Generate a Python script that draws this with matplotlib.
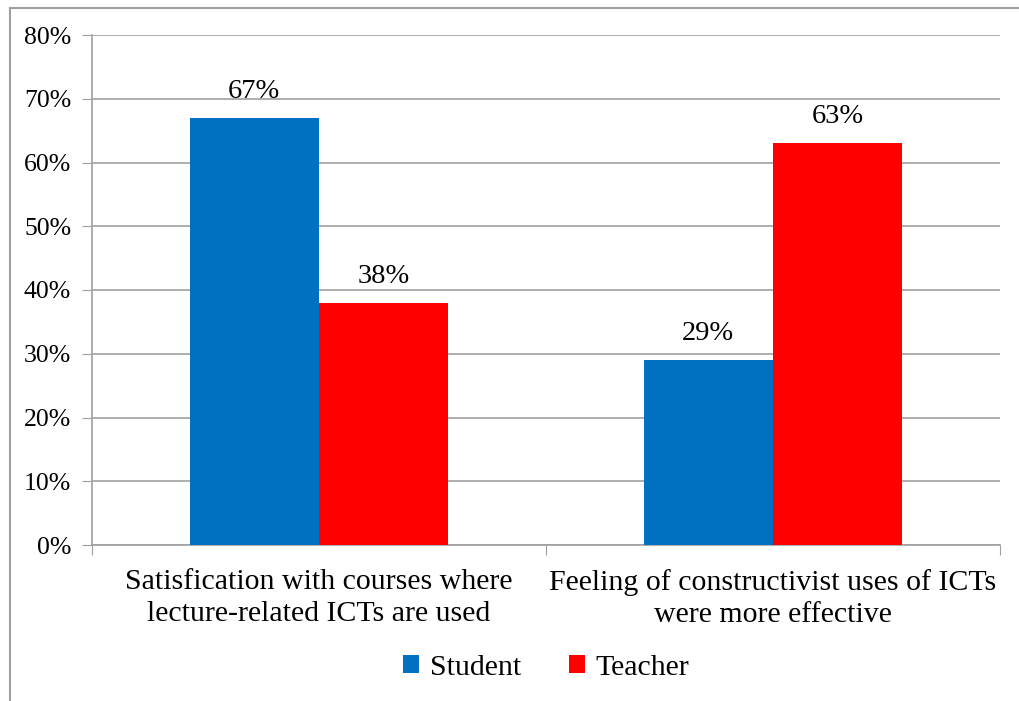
import numpy as np
import matplotlib.pyplot as plt
from matplotlib.lines import Line2D
from matplotlib.ticker import PercentFormatter

categories = ["Satisfication with courses where\nlecture-related ICTs are used",
              "Feeling of constructivist uses of ICTs\nwere more effective"]
student = [67, 29]
teacher = [38, 63]
series_names = ["Student", "Teacher"]
colors = ["#0070C0", "#FF0000"]

plt.rcParams['font.family'] = ['Liberation Serif', 'DejaVu Serif']

fig = plt.figure(figsize=(10.19, 7.01), dpi=100)
ax = fig.add_axes([92 / 1019, 1 - 545 / 701, 908 / 1019, 510 / 701])

x = np.arange(len(categories)) + 0.5
w = 0.285
b1 = ax.bar(x - w / 2, student, w, color=colors[0], label=series_names[0], zorder=3)
b2 = ax.bar(x + w / 2, teacher, w, color=colors[1], label=series_names[1], zorder=3)

for bars in (b1, b2):
    for r in bars:
        ax.text(r.get_x() + r.get_width() / 2, r.get_height() + 2.2, f"{r.get_height():.0f}%",
                ha='center', va='bottom', fontsize=20.5, zorder=4)

ax.set_xlim(0, 2)
ax.set_ylim(0, 80)
ax.set_yticks(np.arange(0, 81, 10))
ax.yaxis.set_major_formatter(PercentFormatter(decimals=0))
ax.set_xticks([0, 1, 2])
ax.set_xticklabels([])
ax.set_xticks(x, minor=True)
ax.set_xticklabels(categories, minor=True, fontsize=21.5)
for lbl in ax.get_xticklabels(minor=True):
    lbl.set_linespacing(1.32)
ax.tick_params(axis='x', which='minor', length=0, pad=17)
ax.tick_params(axis='x', which='major', length=7, color='#A0A0A0')
ax.tick_params(axis='y', length=7, color='#A0A0A0', labelsize=18.5, pad=8)

ax.grid(axis='y', color='#A0A0A0', linewidth=1.2, zorder=0)
for s in ('top', 'right'):
    ax.spines[s].set_visible(False)
for s in ('left', 'bottom'):
    ax.spines[s].set_color('#A0A0A0')
    ax.spines[s].set_linewidth(1.2)

ax.legend(loc='center', bbox_to_anchor=(0.5, (1 - 668 / 701 - (1 - 545 / 701)) / (510 / 701)),
          ncol=2, frameon=False, fontsize=21.5, handlelength=0.55, handleheight=0.55,
          handletextpad=0.35, columnspacing=1.6)

# outer chart frame (top and left edges visible)
fig.add_artist(Line2D([10 / 1019, 1.0], [1 - 8 / 701, 1 - 8 / 701], color='#A0A0A0', lw=1.5,
                      transform=fig.transFigure))
fig.add_artist(Line2D([10 / 1019, 10 / 1019], [0, 1 - 8 / 701], color='#A0A0A0', lw=1.5,
                      transform=fig.transFigure))

fig.savefig('out.png', dpi=100)
